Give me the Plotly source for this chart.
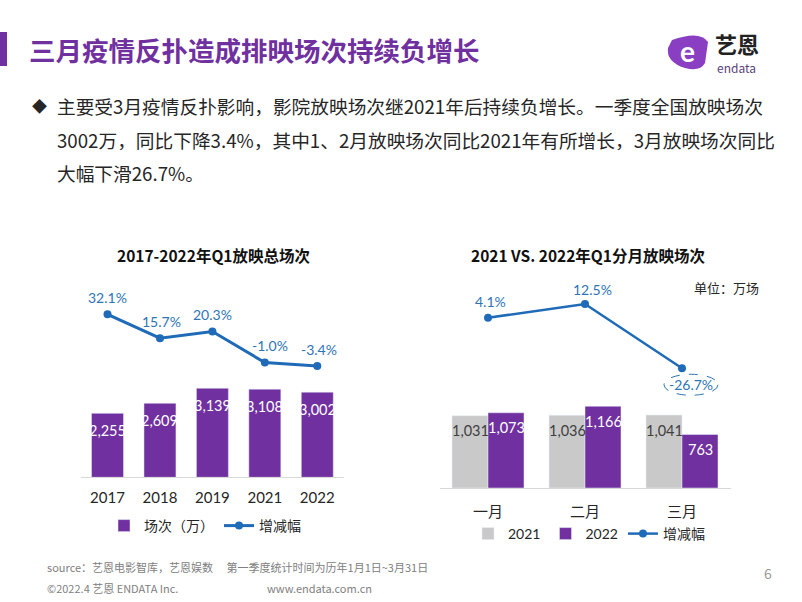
import plotly.graph_objects as go

W, H = 802, 602
def px(x): return x / W
def py(y): return 1 - y / H

# ---- data ----
years = ["2017", "2018", "2019", "2021", "2022"]
total_shows = [2255, 2609, 3139, 3108, 3002]
total_growth = [32.1, 15.7, 20.3, -1.0, -3.4]
total_growth_lbl = ["32.1%", "15.7%", "20.3%", "-1.0%", "-3.4%"]

months = ["一月", "二月", "三月"]
shows_2021 = [1031, 1036, 1041]
shows_2022 = [1073, 1166, 763]
month_growth = [4.1, 12.5, -26.7]
month_growth_lbl = ["4.1%", "12.5%", "-26.7%"]

PURPLE = "#7030A0"
GRAY = "#C9C9C9"
BLUE = "#1F6BB8"
LBLUE = "#2E75B6"
TXT = "#262626"
FONT = "Lato, Noto Sans CJK SC, sans-serif"
CJK = "Noto Sans CJK SC, sans-serif"

fig = go.Figure()

# left chart
fig.add_trace(go.Bar(x=years, y=total_shows, name="场次（万）", marker_color=PURPLE,
                     width=0.61, xaxis="x", yaxis="y", legend="legend", showlegend=True))
fig.add_trace(go.Scatter(x=years, y=total_growth, name="增减幅", mode="lines+markers",
                         line=dict(color=BLUE, width=3), marker=dict(size=8, color=BLUE),
                         xaxis="x", yaxis="y2", legend="legend"))
# right chart
fig.add_trace(go.Bar(x=months, y=shows_2021, name="2021", marker_color=GRAY,
                     xaxis="x2", yaxis="y3", legend="legend2", offsetgroup="a"))
fig.add_trace(go.Bar(x=months, y=shows_2022, name="2022", marker_color=PURPLE,
                     xaxis="x2", yaxis="y3", legend="legend2", offsetgroup="b"))
fig.add_trace(go.Scatter(x=months, y=month_growth, name="增减幅", mode="lines+markers",
                         line=dict(color=BLUE, width=2.5), marker=dict(size=8, color=BLUE),
                         xaxis="x2", yaxis="y4", legend="legend2"))

ann = []
# bar value labels (left) - category index positions
for i, v in enumerate(total_shows):
    ann.append(dict(x=i, y=v, xref="x", yref="y", text=f"{v:,}",
                    showarrow=False, yanchor="middle", yshift=-17,
                    font=dict(color="white", size=14.5, family=FONT)))
# line labels (left)
lshift = [0, 2, 0, 5, 2]
for i, (v, t, s) in enumerate(zip(total_growth, total_growth_lbl, lshift)):
    ann.append(dict(x=i, y=v, xref="x", yref="y2", text=t, showarrow=False,
                    yanchor="middle", yshift=17, xshift=s,
                    font=dict(color=LBLUE, size=14, family=FONT)))
# right bar labels
for i, v in enumerate(shows_2021):
    ann.append(dict(x=i, y=v, xref="x2", yref="y3", text=f"{v:,}", showarrow=False,
                    yanchor="middle", yshift=-15, xshift=-18,
                    font=dict(color="#404040", size=14.5, family=FONT)))
for i, v in enumerate(shows_2022):
    ann.append(dict(x=i, y=v, xref="x2", yref="y3", text=f"{v:,}", showarrow=False,
                    yanchor="middle", yshift=-15, xshift=18,
                    font=dict(color="white", size=14.5, family=FONT)))
# right line labels
rsx = [2, 7, 9]
rsy = [16, 14, -16]
for i, (v, t, sx, sy) in enumerate(zip(month_growth, month_growth_lbl, rsx, rsy)):
    ann.append(dict(x=i, y=v, xref="x2", yref="y4", text=t, showarrow=False,
                    yanchor="middle", yshift=sy, xshift=sx,
                    font=dict(color=LBLUE, size=14, family=FONT)))

# static texts
def txt(x, y, t, size, color=TXT, anchor="left", family=CJK, bold=False):
    ann.append(dict(x=px(x), y=py(y), xref="paper", yref="paper", text=(f"<b>{t}</b>" if bold else t),
                    showarrow=False, xanchor=anchor, yanchor="middle",
                    font=dict(size=size, color=color, family=family)))

txt(27, 49, "三月疫情反扑造成排映场次持续负增长", 26.5, PURPLE, bold=True)
txt(30, 106, "◆", 15, TXT)
txt(55, 106, "主要受3月疫情反扑影响，影院放映场次继2021年后持续负增长。一季度全国放映场次", 18.7, TXT)
txt(55, 140, "3002万，同比下降3.4%，其中1、2月放映场次同比2021年有所增长，3月放映场次同比", 18.7, TXT)
txt(55, 173, "大幅下滑26.7%。", 18.7, TXT)
txt(213, 255, "2017-2022年Q1放映总场次", 15.5, "#111111", anchor="center", bold=True)
txt(588, 255, "2021 VS. 2022年Q1分月放映场次", 15.5, "#111111", anchor="center", bold=True)
txt(692, 287, "单位：万场", 13, TXT)
txt(45, 567, "source：艺恩电影智库，艺恩娱数　 第一季度统计时间为历年1月1日~3月31日", 11, "#808080")
txt(45, 588, "©2022.4 艺恩 ENDATA Inc.", 11, "#808080")
txt(265, 588, "www.endata.com.cn", 11, "#808080")
txt(768, 573, "6", 14, "#999999", anchor="center")
# logo texts
txt(737, 43, "艺恩", 22, "#222222", anchor="center", bold=True)
txt(736, 67, "endata", 12, "#5a3f7a", anchor="center")
txt(687, 51, "e", 28, "white", anchor="center", family="Lato, sans-serif", bold=True)

shapes = [
    dict(type="rect", xref="paper", yref="paper", x0=0, x1=px(7), y0=py(66), y1=py(32),
         fillcolor=PURPLE, line=dict(width=0)),
    dict(type="path", xref="paper", yref="paper",
         path=f"M {px(672)},{py(40)} Q {px(700)},{py(30)} {px(708)},{py(42)} L {px(705)},{py(63)} "
              f"Q {px(700)},{py(72)} {px(685)},{py(68)} Q {px(666)},{py(62)} {px(668)},{py(48)} Z",
         fillcolor="#8A3FC2", line=dict(width=0)),
    # dashed ellipse around the March growth label
    dict(type="circle", xref="x2", yref="y4", xsizemode="pixel", ysizemode="pixel",
         xanchor=2, yanchor=month_growth[2], x0=-18, x1=36, y0=-27, y1=-6,
         line=dict(color=LBLUE, width=1, dash="dash"), fillcolor="rgba(0,0,0,0)"),
]

axis_common = dict(showgrid=False, zeroline=False)
fig.update_layout(
    width=W, height=H, margin=dict(l=0, r=0, t=0, b=0),
    paper_bgcolor="white", plot_bgcolor="white",
    barmode="group", bargap=0.258, bargroupgap=0,
    font=dict(family=FONT, color=TXT),
    xaxis=dict(domain=[px(81.3), px(343.5)], type="category", anchor="y", range=[-0.5, 4.5],
               showline=True, linecolor="#D9D9D9", linewidth=1,
               ticks="outside", ticklen=7, tickcolor="rgba(0,0,0,0)",
               tickfont=dict(size=15, color=TXT), **axis_common),
    yaxis=dict(domain=[py(477.3), py(250)], range=[0, 8012], visible=False, **axis_common),
    yaxis2=dict(overlaying="y", range=[-79.8, 76.3], visible=False, **axis_common),
    xaxis2=dict(domain=[px(439.5), px(730.5)], type="category", anchor="y3", range=[-0.5, 2.5],
                showline=True, linecolor="#D9D9D9", linewidth=1,
                ticks="outside", ticklen=10, tickcolor="rgba(0,0,0,0)",
                tickfont=dict(size=15, color=TXT, family=CJK), **axis_common),
    yaxis3=dict(domain=[py(488), py(250)], range=[0, 3395], visible=False, anchor="x2", **axis_common),
    yaxis4=dict(overlaying="y3", range=[-99.7, 45.4], visible=False, anchor="x2", **axis_common),
    legend=dict(orientation="h", x=px(104), y=py(526), xanchor="left", yanchor="middle",
                font=dict(size=14, color=TXT, family=CJK), itemwidth=30, bgcolor="rgba(0,0,0,0)"),
    legend2=dict(orientation="h", x=px(468), y=py(534), xanchor="left", yanchor="middle",
                 font=dict(size=14, color=TXT, family=FONT), itemwidth=30, bgcolor="rgba(0,0,0,0)"),
    annotations=ann, shapes=shapes,
)

fig.write_html("out.html")
